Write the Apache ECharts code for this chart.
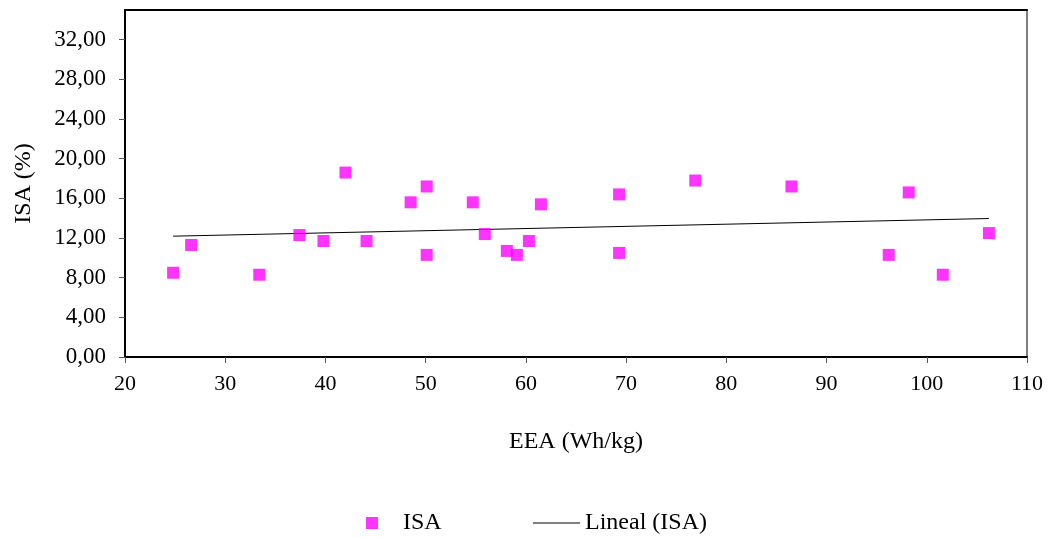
<!DOCTYPE html>
<html>
<head>
<meta charset="utf-8">
<script src="https://cdn.jsdelivr.net/npm/echarts@6/dist/echarts.min.js"></script>
<style>html,body{margin:0;padding:0;background:#fff}#c{width:1053px;height:537px}</style>
</head>
<body>
<div id="c"></div>
<script>
const eeaValues = [24.8, 26.6, 33.4, 37.4, 39.8, 42.0, 44.1, 48.5, 50.1, 50.1, 54.7, 55.9, 58.1, 59.1, 60.3, 61.5, 69.3, 69.3, 76.9, 86.5, 96.2, 98.2, 101.6, 106.2];
const isaValues = [8.5, 11.3, 8.3, 12.3, 11.7, 18.6, 11.7, 15.6, 17.2, 10.3, 15.6, 12.4, 10.7, 10.3, 11.7, 15.4, 16.4, 10.5, 17.8, 17.2, 10.3, 16.6, 8.3, 12.5];
const seriesNames = ['ISA', 'Lineal (ISA)'];
const xAxisTitle = 'EEA (Wh/kg)';
const yAxisTitle = 'ISA (%)';

// least-squares trend line from the data
const n = eeaValues.length;
const mx = eeaValues.reduce((a, b) => a + b, 0) / n;
const my = isaValues.reduce((a, b) => a + b, 0) / n;
let sxy = 0, sxx = 0;
for (let i = 0; i < n; i++) { sxy += (eeaValues[i] - mx) * (isaValues[i] - my); sxx += (eeaValues[i] - mx) ** 2; }
const slope = sxy / sxx, icpt = my - slope * mx;
const xMin = Math.min(...eeaValues), xMax = Math.max(...eeaValues);
const trend = [[xMin, icpt + slope * xMin], [xMax, icpt + slope * xMax]];

const font = 'Liberation Serif';
const chart = echarts.init(document.getElementById('c'));
chart.setOption({
  animation: false,
  grid: { left: 125, right: 26, top: 10, bottom: 180 },
  legend: [
    { data: [{ name: seriesNames[0], icon: 'rect' }], left: 361, top: 506, itemWidth: 12, itemHeight: 12,
      textStyle: { fontFamily: font, fontSize: 24, color: '#000', padding: [0, 0, 0, 20] } },
    { data: [{ name: seriesNames[1], icon: 'rect', itemStyle: { color: '#000' } }], left: 528, top: 506, itemWidth: 47, itemHeight: 1,
      textStyle: { fontFamily: font, fontSize: 24, color: '#000', padding: [0, 0, 0, 0] } }
  ],
  xAxis: [{
    type: 'value', min: 20, max: 110, interval: 10,
    name: xAxisTitle, nameLocation: 'middle', nameGap: 73,
    nameTextStyle: { fontFamily: font, fontSize: 24, color: '#000' },
    axisLine: { lineStyle: { color: '#000', width: 2 } },
    axisTick: { show: true, length: 6, lineStyle: { color: '#555' } },
    axisLabel: { fontFamily: font, fontSize: 22, color: '#000', margin: 16 },
    splitLine: { show: false }
  }, {
    type: 'value', min: 20, max: 110, position: 'top',
    axisLine: { show: true, onZero: false, lineStyle: { color: '#000', width: 2 } },
    axisTick: { show: false }, axisLabel: { show: false }, splitLine: { show: false }
  }],
  yAxis: [{
    type: 'value', min: 0, max: 35, interval: 4,
    name: yAxisTitle, nameLocation: 'middle', nameGap: 89, nameRotate: 90,
    nameTextStyle: { fontFamily: font, fontSize: 24, color: '#000' },
    axisLine: { show: true, lineStyle: { color: '#000', width: 2 } },
    axisTick: { show: true, length: 6, lineStyle: { color: '#555' } },
    axisLabel: { fontFamily: font, fontSize: 23, color: '#000', margin: 19, showMaxLabel: false,
      formatter: v => v.toFixed(2).replace('.', ',') },
    splitLine: { show: false }
  }, {
    type: 'value', min: 0, max: 35, position: 'right',
    axisLine: { show: true, onZero: false, lineStyle: { color: '#808080', width: 2 } },
    axisTick: { show: false }, axisLabel: { show: false }, splitLine: { show: false }
  }],
  series: [
    { name: seriesNames[0], type: 'scatter', symbol: 'rect', symbolSize: 12,
      itemStyle: { color: '#ff00ff' }, data: eeaValues.map((x, i) => [x, isaValues[i]]), z: 3 },
    { name: seriesNames[1], type: 'line', symbol: 'none', lineStyle: { color: '#000', width: 1 },
      itemStyle: { color: '#000' }, data: trend, z: 2 }
  ]
});
</script>
</body>
</html>
